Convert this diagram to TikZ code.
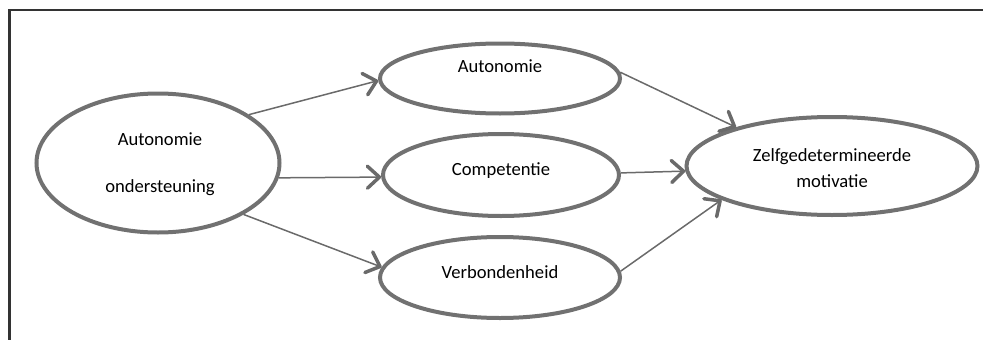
\documentclass[tikz,border=0pt]{standalone}
\usepackage{fontspec}
\setmainfont{Carlito}
\usetikzlibrary{arrows.meta,shapes.geometric}
\definecolor{ringgrey}{HTML}{717171}
\definecolor{linkgrey}{HTML}{6A6A6A}
\definecolor{framegrey}{HTML}{333333}
\begin{document}
\begin{tikzpicture}[x=1pt,y=-1pt,
  concept/.style={ellipse,draw=ringgrey,line width=4pt,inner sep=0pt},
  label/.style={font=\fontsize{18.6}{26}\selectfont,inner sep=0pt,text=black},
  link/.style={draw=linkgrey,line width=1.5pt,
    -{Straight Barb[length=12pt,width=22pt,line width=3.5pt,round]}},
  frameline/.style={draw=framegrey,line width=2.5pt}]
\useasboundingbox (0,0) rectangle (983,340);

% open frame: top and left edges
\coordinate (fbl) at (9.5,340);
\coordinate (ftl) at (9.5,10);
\coordinate (ftr) at (983,10);
\draw[frameline] (fbl) -- (ftl) -- (ftr);

% concepts
\node[concept,minimum width=243pt,minimum height=139pt] (steun) at (158,163) {};
\node[concept,minimum width=240pt,minimum height=70pt]  (auto)  at (500,78.5) {};
\node[concept,minimum width=236pt,minimum height=82pt]  (comp)  at (501,175) {};
\node[concept,minimum width=240pt,minimum height=81pt]  (verb)  at (500,277.5) {};
\node[concept,minimum width=291pt,minimum height=98pt]  (zelf)  at (832,166) {};

% texts
\node[label,align=center,font=\fontsize{18.6}{47}\selectfont] (tsteun) at (160,164)
  {Autonomie\\ondersteuning};
\node[label,anchor=base] (tauto) at (500,72) {Autonomie};
\node[label,anchor=base] (tcomp) at (501,175) {Competentie};
\node[label,anchor=base] (tverb) at (500,278) {Verbondenheid};
\node[label,align=center] (tzelf) at (832,168) {Zelfgedetermineerde\\motivatie};

% paths
\draw[link] (steun.28)    -- (auto.181);
\draw[link] (steun.-7)    -- (comp.181.5);
\draw[link] (steun.-31.7) -- (verb.175.7);
\draw[link] (auto.3)      -- (zelf.158.7);
\draw[link] (comp.1.4)    -- (zelf.182.3);
\draw[link] (verb.3.5)    -- (zelf.197.4);
\end{tikzpicture}
\end{document}
